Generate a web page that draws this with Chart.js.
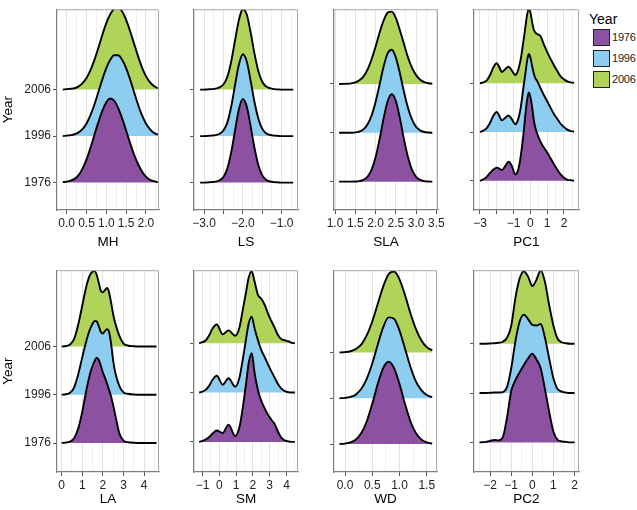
<!DOCTYPE html>
<html>
<head>
<meta charset="utf-8">
<script src="https://cdn.jsdelivr.net/npm/chart.js@4.4.1/dist/chart.umd.min.js"></script>
<style>
  body { margin: 0; background: #fff; width: 637px; height: 510px; position: relative; overflow: hidden;
         font-family: "Liberation Sans", Arial, sans-serif; }
  canvas { position: absolute; }
  .lg-title { position: absolute; left: 589px; top: 11px; font-size: 14px; color: #000; }
  .lg-box { position: absolute; left: 593px; width: 15px; height: 15px; border: 1px solid #222; }
  .lg-text { position: absolute; left: 612px; font-size: 11px; letter-spacing: -0.2px; color: #222; }
</style>
</head>
<body>
<div class="lg-title">Year</div>
<div class="lg-box" style="top:29px;background:#8C52A1"></div><div class="lg-text" style="top:31px">1976</div>
<div class="lg-box" style="top:50px;background:#8DCDF0"></div><div class="lg-text" style="top:52px">1996</div>
<div class="lg-box" style="top:71px;background:#B0D35A"></div><div class="lg-text" style="top:73px">2006</div>
<script>
const years = ['1976', '1996', '2006'];

// ridge heights (in row units), one array per year
const mhX = [-0.1, 0, 0.1, 0.2, 0.3, 0.4, 0.5, 0.6, 0.7, 0.8, 0.9, 1.0, 1.1, 1.2, 1.3, 1.4, 1.5, 1.6, 1.7, 1.8, 1.9, 2.0, 2.1, 2.2, 2.3];
const mh1976 = [0.01, 0.02, 0.04, 0.08, 0.16, 0.3, 0.5, 0.75, 1.03, 1.3, 1.55, 1.73, 1.81, 1.76, 1.6, 1.38, 1.12, 0.85, 0.6, 0.4, 0.24, 0.13, 0.06, 0.03, 0.01];
const mh1996 = [0, 0.01, 0.02, 0.04, 0.08, 0.15, 0.27, 0.45, 0.68, 0.95, 1.22, 1.46, 1.64, 1.74, 1.74, 1.64, 1.46, 1.22, 0.95, 0.68, 0.45, 0.27, 0.15, 0.07, 0.03];
const mh2006 = [0, 0.01, 0.02, 0.03, 0.07, 0.14, 0.25, 0.42, 0.64, 0.9, 1.18, 1.43, 1.62, 1.74, 1.76, 1.68, 1.5, 1.26, 0.99, 0.72, 0.48, 0.29, 0.16, 0.08, 0.03];

const lsX = [-3.1, -3.0, -2.9, -2.8, -2.7, -2.6, -2.5, -2.4, -2.3, -2.2, -2.1, -2.0, -1.9, -1.8, -1.7, -1.6, -1.5, -1.4, -1.3, -1.2, -1.1, -1.0, -0.9, -0.8, -0.7];
const ls1976 = [0, 0, 0.005, 0.01, 0.02, 0.05, 0.12, 0.3, 0.65, 1.12, 1.58, 1.8, 1.64, 1.22, 0.75, 0.38, 0.16, 0.06, 0.025, 0.01, 0.005, 0, 0, 0, 0];
const ls1996 = [0, 0, 0.005, 0.01, 0.02, 0.05, 0.12, 0.29, 0.63, 1.1, 1.54, 1.76, 1.61, 1.2, 0.74, 0.38, 0.16, 0.06, 0.025, 0.01, 0.005, 0, 0, 0, 0];
const ls2006 = [0, 0, 0.005, 0.01, 0.02, 0.05, 0.11, 0.27, 0.6, 1.06, 1.5, 1.74, 1.62, 1.24, 0.78, 0.4, 0.17, 0.07, 0.03, 0.01, 0.005, 0, 0, 0, 0];

const slaX = [1.1, 1.2, 1.3, 1.4, 1.5, 1.6, 1.7, 1.8, 1.9, 2.0, 2.1, 2.2, 2.3, 2.4, 2.5, 2.6, 2.7, 2.8, 2.9, 3.0, 3.1, 3.2, 3.3, 3.4];
const sla1976 = [0, 0, 0, 0, 0.003, 0.011, 0.035, 0.1, 0.24, 0.5, 0.87, 1.3, 1.65, 1.79, 1.65, 1.3, 0.87, 0.5, 0.24, 0.1, 0.035, 0.011, 0.003, 0];
const sla1996 = [0, 0, 0, 0.002, 0.008, 0.026, 0.07, 0.17, 0.35, 0.63, 0.99, 1.36, 1.63, 1.70, 1.54, 1.22, 0.84, 0.51, 0.27, 0.12, 0.05, 0.017, 0.005, 0.001];
const sla2006 = [0, 0.001, 0.004, 0.012, 0.032, 0.074, 0.15, 0.29, 0.5, 0.76, 1.05, 1.3, 1.46, 1.48, 1.35, 1.10, 0.82, 0.54, 0.33, 0.18, 0.086, 0.038, 0.015, 0.005];

const pc1X = [-3.0, -2.8, -2.6, -2.4, -2.2, -2.0, -1.85, -1.7, -1.5, -1.3, -1.1, -0.9, -0.75, -0.6, -0.4, -0.3, -0.2, -0.1, 0, 0.1, 0.2, 0.3, 0.4, 0.6, 0.8, 1.0, 1.2, 1.4, 1.6, 1.8, 2.0, 2.2, 2.4, 2.6];
const pc1_1976 = [0, 0.03, 0.08, 0.16, 0.23, 0.27, 0.25, 0.22, 0.3, 0.39, 0.3, 0.13, 0.2, 0.45, 1.0, 1.35, 1.65, 1.81, 1.72, 1.52, 1.25, 1.08, 0.97, 0.8, 0.68, 0.58, 0.46, 0.34, 0.23, 0.13, 0.06, 0.02, 0.01, 0];
const pc1_1996 = [0, 0.03, 0.08, 0.19, 0.34, 0.41, 0.33, 0.24, 0.29, 0.34, 0.26, 0.16, 0.24, 0.45, 0.95, 1.2, 1.45, 1.6, 1.53, 1.36, 1.2, 1.1, 1.05, 0.9, 0.76, 0.63, 0.5, 0.37, 0.27, 0.17, 0.1, 0.05, 0.02, 0.01];
const pc1_2006 = [0, 0.02, 0.06, 0.17, 0.33, 0.41, 0.33, 0.23, 0.29, 0.34, 0.26, 0.17, 0.25, 0.45, 0.9, 1.15, 1.4, 1.53, 1.46, 1.26, 1.1, 1.04, 1.01, 0.97, 0.8, 0.64, 0.5, 0.37, 0.25, 0.14, 0.08, 0.04, 0.02, 0.01];

const laX = [0, 0.2, 0.4, 0.6, 0.8, 1.0, 1.1, 1.2, 1.3, 1.4, 1.5, 1.6, 1.7, 1.8, 1.9, 2.0, 2.1, 2.2, 2.3, 2.4, 2.5, 2.6, 2.8, 3.0, 3.2, 3.5, 4.0, 4.6];
const la1976 = [0, 0.01, 0.03, 0.1, 0.3, 0.65, 0.88, 1.1, 1.3, 1.47, 1.6, 1.7, 1.77, 1.72, 1.6, 1.46, 1.35, 1.23, 1.1, 0.96, 0.78, 0.58, 0.2, 0.05, 0.02, 0.005, 0, 0];
const la1996 = [0, 0.01, 0.04, 0.15, 0.42, 0.78, 0.96, 1.12, 1.27, 1.38, 1.47, 1.53, 1.52, 1.42, 1.3, 1.27, 1.32, 1.36, 1.3, 1.05, 0.7, 0.46, 0.18, 0.05, 0.02, 0.005, 0, 0];
const la2006 = [0, 0.01, 0.04, 0.15, 0.45, 0.85, 1.06, 1.25, 1.4, 1.5, 1.55, 1.56, 1.48, 1.32, 1.15, 1.12, 1.17, 1.21, 1.12, 0.9, 0.66, 0.48, 0.22, 0.06, 0.02, 0.005, 0, 0];

const smX = [-1.2, -1.0, -0.8, -0.6, -0.4, -0.15, 0.2, 0.55, 0.95, 1.2, 1.4, 1.6, 1.75, 1.93, 2.1, 2.3, 2.5, 2.7, 2.9, 3.1, 3.3, 3.5, 3.7, 3.9, 4.1, 4.3, 4.5];
const sm1976 = [0, 0.02, 0.05, 0.1, 0.17, 0.23, 0.18, 0.35, 0.12, 0.3, 0.7, 1.2, 1.6, 1.8, 1.4, 1.05, 0.83, 0.68, 0.55, 0.45, 0.36, 0.2, 0.08, 0.03, 0.01, 0, 0];
const sm1996 = [0, 0.02, 0.06, 0.14, 0.26, 0.34, 0.16, 0.29, 0.12, 0.3, 0.68, 1.1, 1.4, 1.54, 1.3, 1.06, 0.86, 0.72, 0.57, 0.43, 0.3, 0.17, 0.08, 0.03, 0.01, 0, 0];
const sm2006 = [0, 0.02, 0.06, 0.16, 0.3, 0.38, 0.18, 0.26, 0.15, 0.32, 0.68, 1.05, 1.33, 1.46, 1.25, 0.98, 0.9, 0.78, 0.6, 0.45, 0.31, 0.16, 0.08, 0.06, 0.04, 0.01, 0];

const wdX = [-0.1, 0, 0.1, 0.2, 0.3, 0.4, 0.5, 0.6, 0.7, 0.8, 0.9, 1.0, 1.1, 1.2, 1.3, 1.4, 1.5, 1.6];
const wd1976 = [0.003, 0.011, 0.036, 0.1, 0.24, 0.5, 0.88, 1.31, 1.66, 1.8, 1.66, 1.31, 0.88, 0.5, 0.24, 0.1, 0.036, 0.011];
const wd1996 = [0.003, 0.01, 0.031, 0.086, 0.21, 0.43, 0.76, 1.17, 1.55, 1.77, 1.74, 1.48, 1.09, 0.69, 0.37, 0.18, 0.072, 0.025];
const wd2006 = [0.003, 0.01, 0.029, 0.078, 0.18, 0.38, 0.68, 1.06, 1.44, 1.71, 1.77, 1.6, 1.26, 0.86, 0.52, 0.27, 0.12, 0.048];

const pc2X = [-2.5, -2.2, -2.0, -1.8, -1.6, -1.4, -1.2, -1.0, -0.8, -0.6, -0.4, -0.2, 0, 0.2, 0.4, 0.6, 0.8, 1.0, 1.2, 1.4, 1.6, 1.8, 2.0];
const pc2_1976 = [0, 0.01, 0.03, 0.05, 0.04, 0.1, 0.5, 1.04, 1.26, 1.42, 1.57, 1.7, 1.8, 1.68, 1.5, 1.08, 0.62, 0.22, 0.05, 0.02, 0.01, 0, 0];
const pc2_1996 = [0, 0, 0.005, 0.01, 0.01, 0.02, 0.12, 0.5, 1.05, 1.45, 1.59, 1.5, 1.38, 1.37, 1.4, 1.12, 0.7, 0.3, 0.08, 0.03, 0.01, 0, 0];
const pc2_2006 = [0, 0, 0.005, 0.01, 0.02, 0.04, 0.12, 0.36, 0.93, 1.32, 1.47, 1.36, 1.17, 1.3, 1.49, 1.25, 0.78, 0.37, 0.1, 0.03, 0.01, 0, 0];

// tick positions and their labels
const mhTicks = [0, 0.5, 1, 1.5, 2];
const mhTickLabels = ['0.0', '0.5', '1.0', '1.5', '2.0'];
const lsTicks = [-3, -2.5, -2, -1.5, -1];
const lsTickLabels = ['\u22123.0', '', '\u22122.0', '', '\u22121.0'];
const slaTicks = [1, 1.5, 2, 2.5, 3, 3.5];
const slaTickLabels = ['1.0', '1.5', '2.0', '2.5', '3.0', '3.5'];
const pc1Ticks = [-3, -2, -1, 0, 1, 2];
const pc1TickLabels = ['\u22123', '', '\u22121', '0', '1', '2'];
const laTicks = [0, 1, 2, 3, 4];
const laTickLabels = ['0', '1', '2', '3', '4'];
const smTicks = [-1, 0, 1, 2, 3, 4];
const smTickLabels = ['\u22121', '0', '1', '2', '3', '4'];
const wdTicks = [0, 0.5, 1, 1.5];
const wdTickLabels = ['0.0', '0.5', '1.0', '1.5'];
const pc2Ticks = [-2, -1, 0, 1, 2];
const pc2TickLabels = ['\u22122', '\u22121', '0', '1', '2'];

const fills = ['#8C52A1', '#8DCDF0', '#B0D35A'];

// box = [left, top, right, bottom] of each panel on the page
const panels = [
    { name: 'MH',  xs: mhX,  ys: [mh1976, mh1996, mh2006],       ticks: mhTicks,  labels: mhTickLabels,  box: [57, 3, 159, 210],    xr: [-0.245, 2.33], yr: [0.41, 4.73], first: true },
    { name: 'LS',  xs: lsX,  ys: [ls1976, ls1996, ls2006],       ticks: lsTicks,  labels: lsTickLabels,  box: [194, 3, 298, 210],   xr: [-3.258, -0.577], yr: [0.41, 4.73] },
    { name: 'SLA', xs: slaX, ys: [sla1976, sla1996, sla2006],    ticks: slaTicks, labels: slaTickLabels, box: [334, 3, 438, 210],   xr: [0.975, 3.54], yr: [0.42, 4.53] },
    { name: 'PC1', xs: pc1X, ys: [pc1_1976, pc1_1996, pc1_2006], ticks: pc1Ticks, labels: pc1TickLabels, box: [474, 3, 579, 210],   xr: [-3.357, 2.893], yr: [0.40, 4.52] },
    { name: 'LA',  xs: laX,  ys: [la1976, la1996, la2006],       ticks: laTicks,  labels: laTickLabels,  box: [57, 264, 159, 472],  xr: [-0.228, 4.723], yr: [0.40, 4.58], first: true },
    { name: 'SM',  xs: smX,  ys: [sm1976, sm1996, sm2006],       ticks: smTicks,  labels: smTickLabels,  box: [194, 264, 298, 472], xr: [-1.506, 4.685], yr: [0.39, 4.48] },
    { name: 'WD',  xs: wdX,  ys: [wd1976, wd1996, wd2006],       ticks: wdTicks,  labels: wdTickLabels,  box: [334, 264, 437, 472], xr: [-0.202, 1.688], yr: [0.39, 4.80] },
    { name: 'PC2', xs: pc2X, ys: [pc2_1976, pc2_1996, pc2_2006], ticks: pc2Ticks, labels: pc2TickLabels, box: [474, 264, 579, 472], xr: [-2.763, 2.213], yr: [0.40, 4.49] }
];

Chart.defaults.font.family = '"Liberation Sans", Arial, sans-serif';

// grey frame on the top and right sides of each panel
const frame = {
    id: 'frame',
    afterDatasetsDraw(chart) {
        const { ctx, chartArea: a } = chart;
        ctx.save();
        ctx.strokeStyle = '#a8a8a8';
        ctx.lineWidth = 1;
        ctx.beginPath();
        ctx.moveTo(a.left, a.top + 0.5);
        ctx.lineTo(a.right - 0.5, a.top + 0.5);
        ctx.lineTo(a.right - 0.5, a.bottom);
        ctx.stroke();
        ctx.restore();
    }
};

panels.forEach(p => {
    const [L, T, R, B] = p.box;
    const yw = p.first ? L : 30;
    const xh = T < 100 ? 40 : 35;
    const cv = document.createElement('canvas');
    cv.width = yw + (R - L) + 16;
    cv.height = 3 + (B - T) + xh;
    cv.style.left = (L - yw) + 'px';
    cv.style.top = (T - 3) + 'px';
    document.body.appendChild(cv);

    // major ticks plus a minor grid line half way between them
    const step = p.ticks[1] - p.ticks[0];
    const minor = [p.ticks[0] - step / 2].concat(p.ticks.map(v => v + step / 2))
        .filter(v => v > p.xr[0] && v < p.xr[1]);
    const allTicks = p.ticks.concat(minor).sort((a, b) => a - b);
    const isMajor = v => p.ticks.some(t => Math.abs(t - v) < 1e-9);
    const labelOf = v => {
        const i = p.ticks.findIndex(t => Math.abs(t - v) < 1e-9);
        return i < 0 ? '' : p.labels[i];
    };

    const datasets = years.map((yr, i) => ({
        label: yr,
        data: p.xs.map((x, k) => ({ x: x, y: i + 1 + p.ys[i][k] })),
        borderColor: '#000',
        borderWidth: 1.9,
        backgroundColor: fills[i],
        fill: { value: i + 1 },
        pointRadius: 0,
        cubicInterpolationMode: 'monotone'
    }));

    new Chart(cv, {
        type: 'line',
        data: { datasets: datasets },
        options: {
            responsive: false,
            animation: false,
            devicePixelRatio: 1,
            layout: { padding: { top: 3, right: 16, left: 0, bottom: 0 } },
            plugins: { legend: { display: false }, tooltip: { enabled: false } },
            scales: {
                x: {
                    type: 'linear',
                    min: p.xr[0],
                    max: p.xr[1],
                    afterBuildTicks: s => { s.ticks = allTicks.map(v => ({ value: v })); },
                    afterFit: s => { s.height = xh; },
                    ticks: {
                        autoSkip: false, maxRotation: 0, minRotation: 0, padding: 2,
                        color: '#222', font: { size: 12 },
                        callback: v => labelOf(v)
                    },
                    grid: {
                        color: c => (c.tick && isMajor(c.tick.value)) ? '#e2e2e2' : '#f0f0f0',
                        tickColor: c => (c.tick && isMajor(c.tick.value)) ? '#555' : 'transparent',
                        tickLength: 4,
                        lineWidth: 1
                    },
                    border: { color: '#7f7f7f', width: 1.2 },
                    title: { display: true, text: p.name, color: '#000', font: { size: 13.5 }, padding: 0 }
                },
                y: {
                    type: 'linear',
                    min: p.yr[0],
                    max: p.yr[1],
                    afterBuildTicks: s => { s.ticks = [1, 2, 3].map(v => ({ value: v })); },
                    afterFit: s => { s.width = yw; },
                    ticks: {
                        padding: 2, color: '#222', font: { size: 12 },
                        callback: v => p.first ? years[v - 1] : ''
                    },
                    grid: { color: 'transparent', tickColor: '#555', tickLength: 4, lineWidth: 1 },
                    border: { color: '#7f7f7f', width: 1.2 },
                    title: { display: !!p.first, text: 'Year', color: '#000', font: { size: 13.5 }, padding: 0 }
                }
            }
        },
        plugins: [frame]
    });
});
</script>
</body>
</html>
